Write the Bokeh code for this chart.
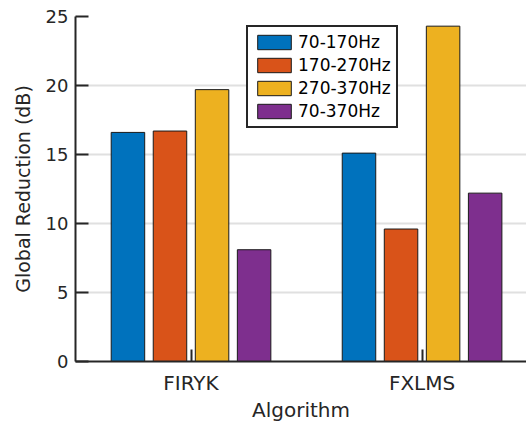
from bokeh.plotting import figure
from bokeh.models import Range1d, FixedTicker, ColumnDataSource, Legend, LegendItem
from bokeh.transform import dodge
from bokeh.embed import file_html
from bokeh.resources import INLINE

# ---- data ----
categories = ["FIRYK", "FXLMS"]
series_names = ["70-170Hz", "170-270Hz", "270-370Hz", "70-370Hz"]
band_70_170 = [16.6, 15.1]
band_170_270 = [16.7, 9.6]
band_270_370 = [19.7, 24.3]
band_70_370 = [8.1, 12.2]
y_ticks = [0, 5, 10, 15, 20, 25]

# ---- styles ----
colors = ["#0072BD", "#D95319", "#EDB120", "#7E2F8E"]
offsets = [-0.273, -0.091, 0.091, 0.273]
bar_width = 0.145
FONT = "DejaVu Sans"
AX = "#262626"

positions = list(range(1, len(categories) + 1))
source = ColumnDataSource(dict(pos=positions, s0=band_70_170, s1=band_170_270,
                               s2=band_270_370, s3=band_70_370))

p = figure(width=526, height=425, x_range=Range1d(0.5, 2.452), y_range=Range1d(0, 25),
           output_backend="svg", toolbar_location=None,
           min_border_left=75, min_border_right=0, min_border_top=16, min_border_bottom=64)
p.outline_line_color = None
p.background_fill_color = "white"
p.border_fill_color = "white"

renderers = []
for i, col in enumerate(["s0", "s1", "s2", "s3"]):
    r = p.vbar(x=dodge("pos", offsets[i]), top=col, width=bar_width, source=source,
               fill_color=colors[i], line_color="#1a1a1a", line_width=1)
    renderers.append(r)

# grid
p.xgrid.visible = False
p.ygrid.grid_line_color = "#e0e0e0"
p.ygrid.grid_line_width = 2

# y axis
ya = p.yaxis[0]
ya.ticker = FixedTicker(ticks=y_ticks)
ya.major_tick_in = 13
ya.major_tick_out = 0
ya.minor_tick_in = 0
ya.minor_tick_out = 0
ya.axis_line_width = 2
ya.axis_line_color = AX
ya.major_tick_line_width = 2
ya.major_tick_line_color = AX
ya.major_label_text_font = FONT
ya.major_label_text_font_size = "18px"
ya.major_label_text_color = AX
ya.major_label_standoff = 7
ya.axis_label = "Global Reduction (dB)"
ya.axis_label_text_font = FONT
ya.axis_label_text_font_size = "19px"
ya.axis_label_text_font_style = "normal"
ya.axis_label_text_color = AX
ya.axis_label_standoff = 9

# x axis
xa = p.xaxis[0]
xa.ticker = FixedTicker(ticks=positions)
xa.major_label_overrides = {pos: cat for pos, cat in zip(positions, categories)}
xa.major_tick_in = 12
xa.major_tick_out = 0
xa.minor_tick_in = 0
xa.minor_tick_out = 0
xa.axis_line_width = 2
xa.axis_line_color = AX
xa.major_tick_line_width = 2
xa.major_tick_line_color = AX
xa.major_label_text_font = FONT
xa.major_label_text_font_size = "20px"
xa.major_label_text_color = AX
xa.major_label_standoff = 9
xa.axis_label = "Algorithm"
xa.axis_label_text_font = FONT
xa.axis_label_text_font_size = "20px"
xa.axis_label_text_font_style = "normal"
xa.axis_label_text_color = AX
xa.axis_label_standoff = 0

legend = Legend(items=[LegendItem(label=n, renderers=[r]) for n, r in zip(series_names, renderers)],
                location=(171, 233))
legend.label_text_font = FONT
legend.label_text_font_size = "17px"
legend.label_text_color = "black"
legend.glyph_width = 42
legend.glyph_height = 18
legend.label_height = 18
legend.label_standoff = 3
legend.spacing = 3
legend.padding = 5
legend.margin = 0
legend.border_line_color = AX
legend.border_line_width = 2
legend.border_line_alpha = 1
legend.background_fill_alpha = 1
p.add_layout(legend)

open("out.html", "w").write(file_html(p, INLINE))
